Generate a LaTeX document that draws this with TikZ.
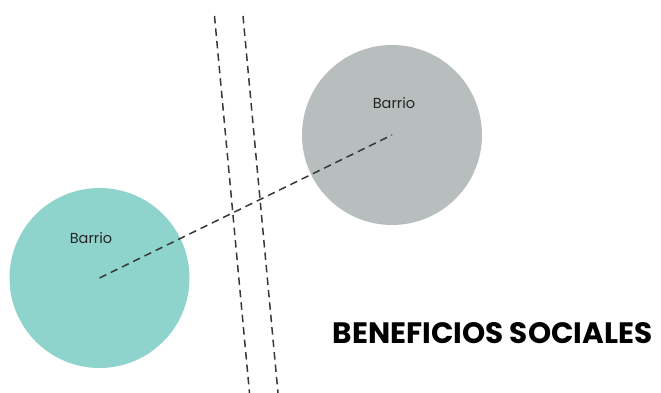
\documentclass[tikz,border=0pt]{standalone}
\usepackage{fontspec}
\setmainfont{Poppins}
\definecolor{tealc}{HTML}{8FD4CC}
\definecolor{grayc}{HTML}{B8BEBD}
\definecolor{dashc}{HTML}{383838}
\begin{document}
\begin{tikzpicture}[x=1pt,y=-1pt,
  barrio/.style={circle,minimum size=180pt,inner sep=0pt,draw=none},
  dline/.style={draw=dashc,line width=1.5pt,dash pattern=on 7.5pt off 5pt},
  lbl/.style={font=\fontsize{14.5}{16}\selectfont,text=black!85}]
\useasboundingbox (0,0) rectangle (661,393);
\node[barrio,fill=tealc] (bl) at (99.5,278) {};
\node[barrio,fill=grayc] (br) at (392,135) {};
\node[lbl] (tl) at (91,238) {Barrio};
\node[lbl] (tr) at (394,103) {Barrio};
\coordinate (a1) at (214.5,16);
\coordinate (a2) at (249.5,393);
\coordinate (b1) at (243,16);
\coordinate (b2) at (278,393);
\draw[dline] (a1) -- (a2);
\draw[dline] (b1) -- (b2);
\draw[dline] (bl.center) -- (br.center);
\node[font=\bfseries\fontsize{29.5}{34}\selectfont,anchor=base,inner sep=0pt] (title) at (492.5,343) {BENEFICIOS SOCIALES};
\end{tikzpicture}
\end{document}
